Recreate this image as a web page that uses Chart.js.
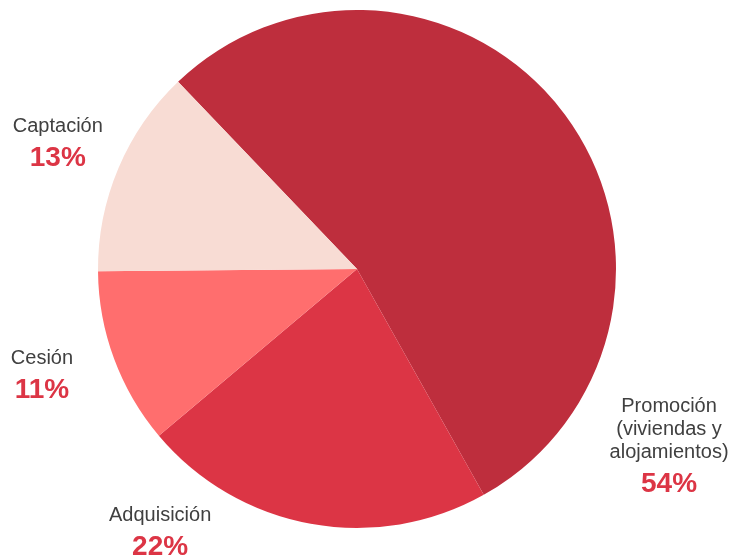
<!DOCTYPE html>
<html>
<head>
<meta charset="utf-8">
<script src="https://cdn.jsdelivr.net/npm/chart.js@4/dist/chart.umd.min.js"></script>
<style>
  body { margin: 0; background: #fff; }
  #wrap { width: 729px; height: 560px; position: relative; }
</style>
</head>
<body>
<div id="wrap"><canvas id="pieChart"></canvas></div>
<script>
const categories = ["Promoción (viviendas y alojamientos)", "Adquisición", "Cesión", "Captación"];
const shares = [54, 22, 11, 13];
const colors = ["#BE2E3D", "#DC3545", "#FF6E6E", "#F8DCD4"];
// label name lines per slice
const nameLines = [["Promoción", "(viviendas y", "alojamientos)"], ["Adquisición"], ["Cesión"], ["Captación"]];
// where each label block sits: angle (deg, clockwise from top) and distance as share of radius
const labelPlace = [[119.4, 1.383], [216.9, 1.266], [251.6, 1.282], [293, 1.255]];

const outsideLabels = {
  id: "outsideLabels",
  afterDraw(chart) {
    const ctx = chart.ctx;
    const arcs = chart.getDatasetMeta(0).data;
    ctx.save();
    ctx.textAlign = "center";
    ctx.textBaseline = "middle";
    arcs.forEach((arc, i) => {
      const a = labelPlace[i][0] * Math.PI / 180;
      const r = arc.outerRadius * labelPlace[i][1];
      const cx = arc.x + r * Math.sin(a);
      const cy = arc.y - r * Math.cos(a);
      const lines = nameLines[i];
      const span = (lines.length - 1) * 23 + 31;
      let y = cy - span / 2;
      ctx.fillStyle = "#404040";
      ctx.font = "20px 'Liberation Sans', Arial, sans-serif";
      lines.forEach((t, k) => {
        ctx.fillText(t, cx, y + k * 23);
      });
      ctx.fillStyle = "#DC3545";
      ctx.font = "bold 28px 'Liberation Sans', Arial, sans-serif";
      ctx.fillText(shares[i] + "%", cx, y + (lines.length - 1) * 23 + 32);
    });
    ctx.restore();
  }
};

let ctx = document.getElementById("pieChart").getContext("2d");
let chart = new Chart(ctx, {
  type: "pie",
  data: {
    labels: categories,
    datasets: [
      {
        data: shares,
        backgroundColor: colors,
        borderWidth: 0,
      },
    ],
  },
  options: {
    responsive: true,
    maintainAspectRatio: false,
    animation: false,
    rotation: -43.7,
    layout: {
      padding: { top: 10, bottom: 32, left: 98, right: 113 },
    },
    plugins: {
      legend: { display: false },
      tooltip: { enabled: false },
    },
  },
  plugins: [outsideLabels],
});
</script>
</body>
</html>
